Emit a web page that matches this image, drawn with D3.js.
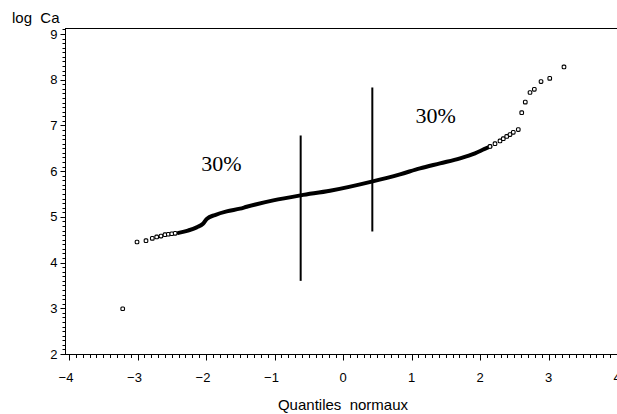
<!DOCTYPE html>
<html>
<head>
<meta charset="utf-8">
<script src="https://cdn.jsdelivr.net/npm/d3@7"></script>
<style>
  html, body { margin: 0; padding: 0; background: #fff; }
  svg { display: block; }
</style>
</head>
<body>
<svg id="chart" width="617" height="414"></svg>
<script>
// ---- data ----
const xTicks = [-4, -3, -2, -1, 0, 1, 2, 3, 4];
const yTicks = [2, 3, 4, 5, 6, 7, 8, 9];

// dense body of the QQ plot (thick curve)
const curveQ     = [-2.40, -2.263, -2.136, -2.044, -1.985, -1.869, -1.698, -1.504, -1.406, -1.018, -0.618, -0.19, 0.419, 0.832, 1.124, 1.416, 1.708, 1.927, 2.06, 2.15];
const curveLogCa = [ 4.65,  4.70,   4.77,   4.85,   4.96,   5.04,   5.12,   5.18,   5.22,   5.36,   5.47,   5.57, 5.77,  5.93,  6.06,  6.17,  6.28,  6.39,  6.48, 6.54];

// individually visible points in the tails
const tailQ     = [-3.216, -3.007, -2.876, -2.784, -2.72, -2.657, -2.599, -2.55, -2.50, -2.45, 2.146, 2.219, 2.292, 2.34, 2.39, 2.438, 2.486, 2.559, 2.609, 2.661, 2.73, 2.793, 2.891, 3.018, 3.226];
const tailLogCa = [ 2.99,   4.45,   4.48,   4.53,   4.56,  4.58,   4.61,   4.62,  4.63,  4.64,  6.54,  6.60,  6.66,  6.71, 6.76, 6.80,  6.85,  6.91,  7.28,  7.51,  7.72, 7.79,  7.96,  8.03,  8.28];

// 30% cut lines: [x, yBottom, yTop]
const cutQ      = [-0.618, 0.428];
const cutBottom = [3.60, 4.68];
const cutTop    = [6.78, 7.83];

const pctLabels = ["30%", "30%"];
const pctQ      = [-2.07, 1.06];
const pctLogCa  = [6.0, 7.05];

// ---- drawing ----
const svg = d3.select("#chart");
const x = d3.scaleLinear().domain([-4, 4]).range([69, 617]);
const y = d3.scaleLinear().domain([2, 9]).range([354, 34]);

const axisX0 = 65, axisY0 = 354, topY = 28;
const font = "'Liberation Sans', Arial, Helvetica, sans-serif";

// frame lines
svg.append("line").attr("x1", axisX0).attr("x2", 617).attr("y1", topY).attr("y2", topY)
  .attr("stroke", "#000").attr("stroke-width", 1).attr("shape-rendering", "crispEdges");

// x axis
const minorX = d3.range(-40, 41).map(d => d / 10);
const gx = svg.append("g").attr("transform", `translate(0,${axisY0 + 0.5})`);
gx.append("line").attr("x1", axisX0).attr("x2", 617).attr("stroke", "#000").attr("shape-rendering", "crispEdges");
gx.selectAll(".mx").data(minorX).join("line")
  .attr("x1", d => Math.round(x(d)) + 0.5).attr("x2", d => Math.round(x(d)) + 0.5)
  .attr("y1", 0).attr("y2", d => (Math.abs(d - Math.round(d)) < 1e-6) ? 6 : 3.5)
  .attr("stroke", "#000").attr("stroke-width", 1);
gx.selectAll("text").data(xTicks).join("text")
  .attr("x", d => x(d) - (d < 0 ? 3 : 0)).attr("y", 27)
  .attr("text-anchor", "middle")
  .attr("font-family", font).attr("font-size", 13).attr("fill", "#000")
  .text(d => d < 0 ? "\u2212" + Math.abs(d) : String(d));

// y axis
const minorY = d3.range(20, 92).map(d => d / 10);
const gy = svg.append("g").attr("transform", `translate(${axisX0 + 0.5},0)`);
gy.append("line").attr("y1", topY).attr("y2", axisY0 + 0.5).attr("stroke", "#000").attr("shape-rendering", "crispEdges");
gy.selectAll(".my").data(minorY).join("line")
  .attr("y1", d => Math.round(y(d)) + 0.5).attr("y2", d => Math.round(y(d)) + 0.5)
  .attr("x1", 0).attr("x2", d => (Math.abs(d - Math.round(d)) < 1e-6) ? -5 : -3)
  .attr("stroke", "#000").attr("stroke-width", 1);
gy.selectAll("text").data(yTicks).join("text")
  .attr("x", -8).attr("y", d => y(d) + 4.5)
  .attr("text-anchor", "end")
  .attr("font-family", font).attr("font-size", 13).attr("fill", "#000")
  .text(d => String(d));

// axis titles
svg.append("text").attr("x", 12).attr("y", 23)
  .attr("font-family", font).attr("font-size", 15).attr("fill", "#000")
  .attr("xml:space", "preserve").text("log  Ca");
svg.append("text").attr("x", 343).attr("y", 410).attr("text-anchor", "middle")
  .attr("font-family", font).attr("font-size", 15).attr("fill", "#000")
  .attr("xml:space", "preserve").text("Quantiles  normaux");

// dense curve
const curvePts = curveQ.map((q, i) => [q, curveLogCa[i]]);
svg.append("path").datum(curvePts)
  .attr("d", d3.line().x(d => x(d[0])).y(d => y(d[1])).curve(d3.curveMonotoneX))
  .attr("fill", "none").attr("stroke", "#000").attr("stroke-width", 4)
  .attr("stroke-linecap", "round").attr("stroke-linejoin", "round");

// tail points
const tailPts = tailQ.map((q, i) => [q, tailLogCa[i]]);
svg.selectAll(".pt").data(tailPts).join("rect")
  .attr("x", d => x(d[0]) - 1.8).attr("y", d => y(d[1]) - 1.8)
  .attr("width", 3.6).attr("height", 3.6).attr("rx", 1)
  .attr("fill", "#fff").attr("stroke", "#000").attr("stroke-width", 1.1);

// cut lines
svg.selectAll(".cut").data(cutQ).join("line")
  .attr("x1", d => x(d)).attr("x2", d => x(d))
  .attr("y1", (d, i) => y(cutBottom[i])).attr("y2", (d, i) => y(cutTop[i]))
  .attr("stroke", "#000").attr("stroke-width", 2);

// percentage labels
svg.selectAll(".pct").data(pctLabels).join("text")
  .attr("x", (d, i) => x(pctQ[i])).attr("y", (d, i) => y(pctLogCa[i]))
  .attr("font-family", "'Liberation Serif', 'Times New Roman', serif")
  .attr("font-size", 22).attr("fill", "#000")
  .text(d => d);
</script>
</body>
</html>
